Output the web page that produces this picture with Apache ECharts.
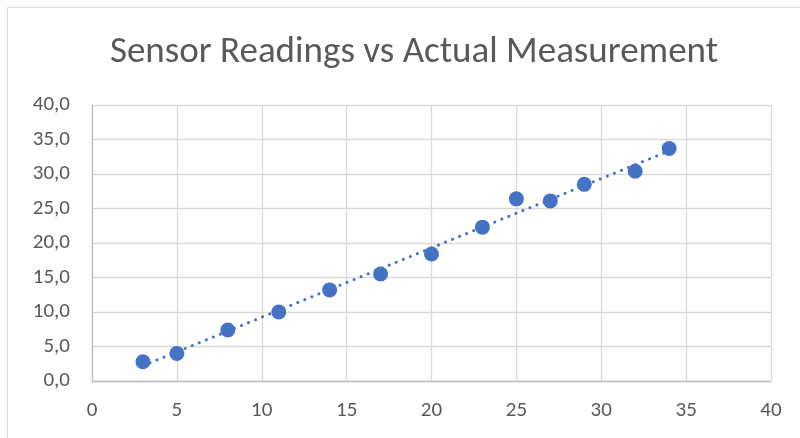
<!DOCTYPE html>
<html><head><meta charset="utf-8">
<script src="https://cdn.jsdelivr.net/npm/echarts@6/dist/echarts.min.js"></script>
<style>html,body{margin:0;padding:0;background:#fff}#c{width:800px;height:438px}</style>
</head><body><div id="c"></div>
<script>
const titleText = "Sensor Readings vs Actual Measurement";
const actual = [3, 5, 8, 11, 14, 17, 20, 23, 25, 27, 29, 32, 34];
const sensor = [2.8, 4.0, 7.4, 10.0, 13.2, 15.5, 18.4, 22.3, 26.4, 26.1, 28.5, 30.4, 33.7];
const xTicks = [0, 5, 10, 15, 20, 25, 30, 35, 40];
const yTicks = [0, 5, 10, 15, 20, 25, 30, 35, 40];

// Linear least-squares trendline (as Excel does)
const n = actual.length;
const mx = actual.reduce((a,b)=>a+b,0)/n;
const my = sensor.reduce((a,b)=>a+b,0)/n;
let sxy = 0, sxx = 0;
for (let i=0;i<n;i++){ sxy += (actual[i]-mx)*(sensor[i]-my); sxx += (actual[i]-mx)*(actual[i]-mx); }
const slope = sxy/sxx, icpt = my - slope*mx;
const xMin = Math.min(...actual), xMax = Math.max(...actual);
const trend = [[xMin, icpt+slope*xMin],[xMax, icpt+slope*xMax]];

const chart = echarts.init(document.getElementById('c'), null, {renderer:'canvas'});
const font = "Calibri, Carlito, 'Open Sans', sans-serif";
chart.setOption({
  animation:false,
  graphic:[{type:'rect', shape:{x:7.5,y:7.5,width:820,height:460}, style:{fill:'none', stroke:'#d9d9d9', lineWidth:1}, z:-1}],
  title:{text:titleText, left:409, textAlign:'center', top:29, textStyle:{fontFamily:font, fontSize:37, fontWeight:'normal', color:'#595959'}},
  grid:{left:92, right:29, top:105, bottom:57},
  xAxis:{type:'value', min:xTicks[0], max:xTicks[xTicks.length-1], interval:5,
    axisLine:{show:true, lineStyle:{color:'#bfbfbf', width:1.3}}, axisTick:{show:false},
    axisLabel:{color:'#595959', fontSize:21, fontFamily:font, margin:19},
    splitLine:{show:true, lineStyle:{color:'#d9d9d9', width:1.3}}},
  yAxis:{type:'value', min:yTicks[0], max:yTicks[yTicks.length-1], interval:5,
    axisLine:{show:true, lineStyle:{color:'#bfbfbf', width:1.3}}, axisTick:{show:false},
    axisLabel:{color:'#595959', fontSize:21, fontFamily:font, margin:22, formatter:v=>v.toFixed(1).replace('.',',')},
    splitLine:{show:true, lineStyle:{color:'#d9d9d9', width:1.3}}},
  series:[
    {type:'line', data:trend, symbol:'none', z:3,
      lineStyle:{color:'#4472c4', width:3, type:[0.1,7.5], cap:'round'}},
    {type:'scatter', data:actual.map((x,i)=>[x, sensor[i]]), symbol:'circle', symbolSize:15, z:4,
      itemStyle:{color:'#4472c4', opacity:1}}
  ]
});
</script></body></html>
